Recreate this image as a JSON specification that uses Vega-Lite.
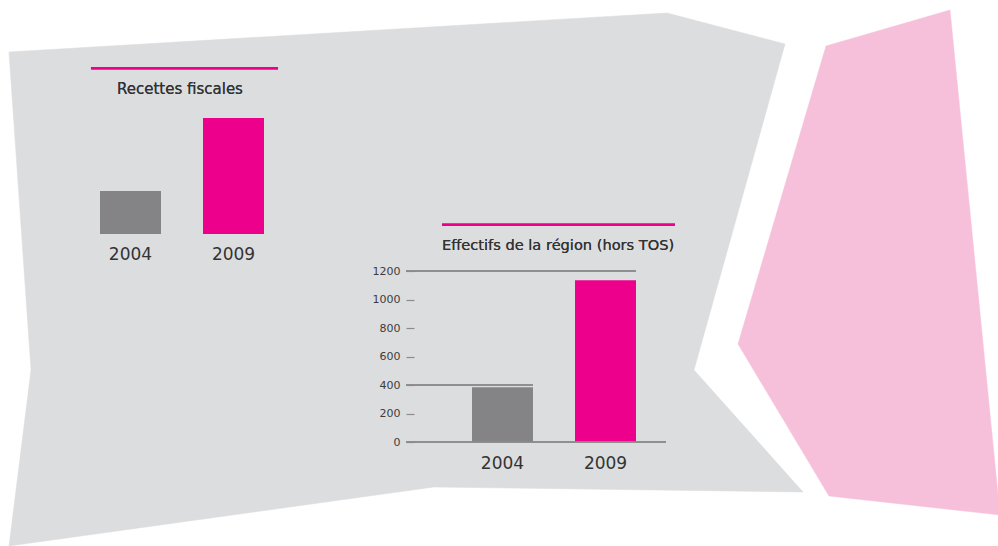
{
  "$schema": "https://vega.github.io/schema/vega-lite/v6.json",
  "width": 998,
  "height": 546,
  "autosize": {"type": "none"},
  "padding": 0,
  "background": "#ffffff",
  "config": {
    "view": {"stroke": null},
    "font": "DejaVu Sans",
    "text": {"font": "DejaVu Sans", "color": "#333333"}
  },
  "datasets": {
    "formes": [
      {"forme": "gris", "ordre": 1, "px": 9, "py": 52},
      {"forme": "gris", "ordre": 2, "px": 667, "py": 13},
      {"forme": "gris", "ordre": 3, "px": 785, "py": 44},
      {"forme": "gris", "ordre": 4, "px": 694, "py": 370},
      {"forme": "gris", "ordre": 5, "px": 803, "py": 492},
      {"forme": "gris", "ordre": 6, "px": 434, "py": 487},
      {"forme": "gris", "ordre": 7, "px": 9, "py": 546},
      {"forme": "gris", "ordre": 8, "px": 31, "py": 370},
      {"forme": "rose", "ordre": 1, "px": 826, "py": 46},
      {"forme": "rose", "ordre": 2, "px": 950, "py": 10},
      {"forme": "rose", "ordre": 3, "px": 1000, "py": 515},
      {"forme": "rose", "ordre": 4, "px": 829, "py": 496},
      {"forme": "rose", "ordre": 5, "px": 738, "py": 344}
    ],
    "recettes": [
      {"annee": "2004", "valeur": 37},
      {"annee": "2009", "valeur": 100}
    ],
    "effectifs": [
      {"annee": "2004", "valeur": 385},
      {"annee": "2009", "valeur": 1135}
    ]
  },
  "layer": [
    {
      "data": {"name": "formes"},
      "encoding": {
        "x": {"field": "px", "type": "quantitative", "axis": null,
              "scale": {"domain": [0, 998], "range": [0, 998], "nice": false, "zero": false}},
        "y": {"field": "py", "type": "quantitative", "axis": null,
              "scale": {"domain": [0, 546], "range": [0, 546], "nice": false, "zero": false}},
        "order": {"field": "ordre", "type": "quantitative"}
      },
      "layer": [
        {
          "transform": [{"filter": "datum.forme === 'gris'"}],
          "mark": {"type": "line", "interpolate": "linear-closed", "fill": "#dcdddf", "stroke": "#dcdddf", "strokeWidth": 0.5}
        },
        {
          "transform": [{"filter": "datum.forme === 'rose'"}],
          "mark": {"type": "line", "interpolate": "linear-closed", "fill": "#f6c0da", "stroke": "#f6c0da", "strokeWidth": 0.5}
        }
      ]
    },
    {
      "data": {"name": "recettes"},
      "layer": [
        {
          "mark": {"type": "bar"},
          "encoding": {
            "x": {"field": "annee", "type": "nominal", "axis": null,
                  "scale": {"range": [100, 264], "paddingInner": 0.408, "paddingOuter": 0}},
            "y": {"field": "valeur", "type": "quantitative", "axis": null,
                  "scale": {"domain": [0, 100], "range": [234, 118], "nice": false}},
            "color": {"field": "annee", "type": "nominal", "legend": null,
                      "scale": {"domain": ["2004", "2009"], "range": ["#848486", "#ec008c"]}}
          }
        },
        {
          "mark": {"type": "text", "fontSize": 17, "baseline": "alphabetic", "dy": 26, "color": "#333333"},
          "encoding": {
            "x": {"field": "annee", "type": "nominal"},
            "y": {"datum": 0, "type": "quantitative"},
            "text": {"field": "annee"}
          }
        },
        {
          "mark": {"type": "text", "fontSize": 15, "baseline": "alphabetic", "align": "center", "color": "#333333", "text": "Recettes fiscales"},
          "encoding": {
            "x": {"datum": "2004", "type": "nominal", "bandPosition": 1.311},
            "y": {"datum": 120.4, "type": "quantitative"}
          }
        },
        {
          "mark": {"type": "rule", "color": "#ec008c", "strokeWidth": 2.4},
          "encoding": {
            "x": {"datum": "2004", "type": "nominal", "bandPosition": -0.148},
            "x2": {"datum": "2009", "bandPosition": 1.23},
            "y": {"datum": 142.9, "type": "quantitative"}
          }
        }
      ]
    },
    {
      "data": {"name": "effectifs"},
      "layer": [
        {
          "mark": {"type": "bar"},
          "encoding": {
            "x": {"field": "annee", "type": "nominal", "axis": null,
                  "scale": {"range": [472, 636], "paddingInner": 0.408, "paddingOuter": 0}},
            "y": {"field": "valeur", "type": "quantitative",
                  "scale": {"domain": [0, 1200], "range": [442, 271], "nice": false},
                  "axis": {
                    "orient": "left", "offset": -414, "title": null, "zindex": 2,
                    "values": [0, 200, 400, 600, 800, 1000, 1200], "format": "d",
                    "domain": false, "grid": false,
                    "tickSize": 8, "tickColor": "#8a8a8a", "tickWidth": 1.2,
                    "labelPadding": 6, "labelFontSize": 11, "labelColor": "#3c3c3c",
                    "labelFont": "DejaVu Sans"
                  }},
            "color": {"field": "annee", "type": "nominal", "legend": null,
                      "scale": {"domain": ["2004", "2009"], "range": ["#848486", "#ec008c"]}}
          }
        },
        {
          "mark": {"type": "rule", "color": "#8a8a8a", "strokeWidth": 1.3},
          "encoding": {
            "x": {"datum": "2004", "type": "nominal", "bandPosition": -1.082},
            "x2": {"datum": "2009", "bandPosition": 1.492},
            "y": {"datum": 0, "type": "quantitative"}
          }
        },
        {
          "mark": {"type": "rule", "color": "#8a8a8a", "strokeWidth": 1.3},
          "encoding": {
            "x": {"datum": "2004", "type": "nominal", "bandPosition": -1.082},
            "x2": {"datum": "2004", "bandPosition": 1.0},
            "y": {"datum": 400, "type": "quantitative"}
          }
        },
        {
          "mark": {"type": "rule", "color": "#8a8a8a", "strokeWidth": 1.3},
          "encoding": {
            "x": {"datum": "2004", "type": "nominal", "bandPosition": -1.082},
            "x2": {"datum": "2009", "bandPosition": 1.0},
            "y": {"datum": 1200, "type": "quantitative"}
          }
        },
        {
          "mark": {"type": "text", "fontSize": 17, "baseline": "alphabetic", "dy": 27, "color": "#333333"},
          "encoding": {
            "x": {"field": "annee", "type": "nominal"},
            "y": {"datum": 0, "type": "quantitative"},
            "text": {"field": "annee"}
          }
        },
        {
          "mark": {"type": "text", "fontSize": 14.6, "baseline": "alphabetic", "align": "left", "color": "#333333", "text": "Effectifs de la région (hors TOS)"},
          "encoding": {
            "x": {"datum": "2004", "type": "nominal", "bandPosition": -0.492},
            "y": {"datum": 1347, "type": "quantitative"}
          }
        },
        {
          "mark": {"type": "rule", "color": "#ec008c", "strokeWidth": 2.4},
          "encoding": {
            "x": {"datum": "2004", "type": "nominal", "bandPosition": -0.492},
            "x2": {"datum": "2009", "bandPosition": 1.639},
            "y": {"datum": 1525, "type": "quantitative"}
          }
        }
      ]
    }
  ],
  "resolve": {"scale": {"x": "independent", "y": "independent"}}
}
